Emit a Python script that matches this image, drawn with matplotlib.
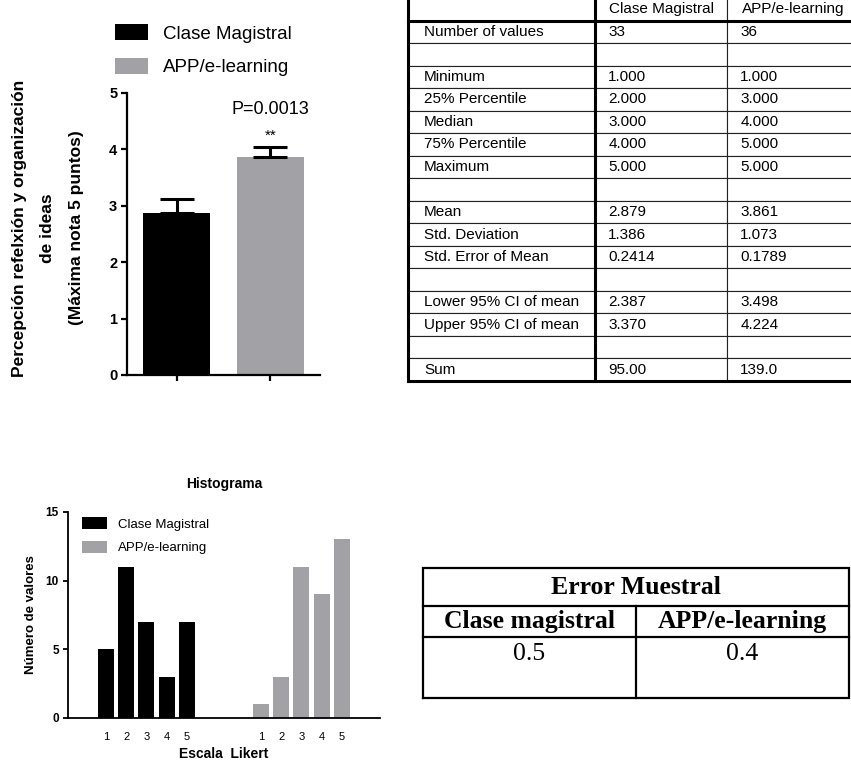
import matplotlib
matplotlib.use("Agg")
import matplotlib.pyplot as plt
from matplotlib.patches import Patch

plt.rcParams['font.family'] = ['Liberation Sans', 'DejaVu Sans']

# --- data ---
groups = ['Clase Magistral', 'APP/e-learning']
means = [2.879, 3.861]
sems = [0.2414, 0.1789]
p_text = 'P=0.0013'

likert = [1, 2, 3, 4, 5]
counts_clase = [5, 11, 7, 3, 7]
counts_app = [1, 3, 11, 9, 13]

stat_names = ['Number of values', '', 'Minimum', '25% Percentile', 'Median',
              '75% Percentile', 'Maximum', '', 'Mean', 'Std. Deviation',
              'Std. Error of Mean', '', 'Lower 95% CI of mean',
              'Upper 95% CI of mean', '', 'Sum']
clase_vals = ['33', '', '1.000', '2.000', '3.000', '4.000', '5.000', '',
              '2.879', '1.386', '0.2414', '', '2.387', '3.370', '', '95.00']
app_vals = ['36', '', '1.000', '3.000', '4.000', '5.000', '5.000', '',
            '3.861', '1.073', '0.1789', '', '3.498', '4.224', '', '139.0']

error_groups = ['Clase magistral', 'APP/e-learning']
sample_error = ['0.5', '0.4']

GRAY = '#a2a2a6'
W, H = 851, 764


def box(x0, y0, x1, y1):
    # pixel box (top-left origin) -> figure fraction rect
    return [x0 / W, 1 - y1 / H, (x1 - x0) / W, (y1 - y0) / H]


fig = plt.figure(figsize=(W / 100, H / 100), dpi=100)

# ---------------- bar chart (top left) ----------------
ax1 = fig.add_axes(box(127, 93, 320, 375))
ax1.bar([0, 1], means, width=0.71, color=['black', GRAY],
        yerr=[[0, 0], sems], capsize=12,
        error_kw=dict(elinewidth=2.2, capthick=2.2, ecolor='black'))
ax1.set_xlim(-0.527, 1.527)
ax1.set_ylim(0, 5)
for s in ['top', 'right']:
    ax1.spines[s].set_visible(False)
for s in ['left', 'bottom']:
    ax1.spines[s].set_linewidth(1.6)
ax1.set_xticks([0, 1])
ax1.set_xticklabels(['', ''])
ax1.tick_params(axis='x', length=4, width=1.6)
ax1.tick_params(axis='y', length=4, width=1.6, pad=3, labelsize=10.5)
for t in ax1.get_yticklabels():
    t.set_fontweight('bold')
ax1.text(1, 4.70, p_text, ha='center', va='center', fontsize=13)
ax1.text(1, 4.24, '**', ha='center', va='center', fontsize=11)

fig.legend([Patch(facecolor='black'), Patch(facecolor=GRAY)], groups,
           loc='upper left', bbox_to_anchor=(115 / W, 1 - 24 / H),
           frameon=False, fontsize=13.5, handlelength=1.76, handleheight=0.96,
           labelspacing=0.8, handletextpad=0.8, borderpad=0, borderaxespad=0)

fig.text(48 / W, 1 - 228 / H,
         'Percepción refelxión y organización\nde ideas\n(Máxima nota 5 puntos)',
         rotation=90, ha='center', va='center', multialignment='center',
         fontsize=12.5, fontweight='bold', linespacing=2.1)

# ---------------- statistics table (top right) ----------------
ax3 = fig.add_axes(box(408, -2, 859, 381))
ax3.axis('off')
col_w = [187 / 451, 132 / 451, 132 / 451]
rows = [[n, a, b] for n, a, b in zip(stat_names, clase_vals, app_vals)]
tab = ax3.table(cellText=rows, colLabels=[''] + groups, colWidths=col_w,
                cellLoc='left', bbox=[0, 0, 1, 1])
tab.auto_set_font_size(False)
tab.set_fontsize(11)
for (r, c), cell in tab.get_celld().items():
    cell.set_linewidth(0.8)
    cell.set_edgecolor('#222222')
    cell.PAD = 0.085 if c == 0 else 0.1
n_rows = len(stat_names) + 1
for xs, ys in [([0, 0], [0, 1]), ([col_w[0], col_w[0]], [0, 1]),
               ([0, 1], [0, 0]), ([0, 1], [1 - 1 / n_rows, 1 - 1 / n_rows])]:
    ax3.plot(xs, ys, color='black', lw=2.2, transform=ax3.transAxes,
             clip_on=False, solid_capstyle='projecting')

# ---------------- histogram (bottom left) ----------------
ax2 = fig.add_axes(box(68, 512, 380, 718))
offset = 7.67
pos_clase = likert
pos_app = [x + offset for x in likert]
ax2.bar(pos_clase, counts_clase, width=0.8, color='black', label=groups[0])
ax2.bar(pos_app, counts_app, width=0.8, color=GRAY, label=groups[1])
ax2.set_xlim(-0.88, 14.56)
ax2.set_ylim(0, 15)
ax2.set_yticks([0, 5, 10, 15])
ax2.set_xticks(pos_clase + pos_app)
ax2.set_xticklabels([str(v) for v in likert] * 2)
for s in ['top', 'right']:
    ax2.spines[s].set_visible(False)
for s in ['left', 'bottom']:
    ax2.spines[s].set_linewidth(1.3)
ax2.tick_params(axis='x', length=0, pad=10, labelsize=8)
ax2.tick_params(axis='y', length=3.5, width=1.3, pad=3, labelsize=8.5)
for t in ax2.get_yticklabels():
    t.set_fontweight('bold')
ax2.set_title('Histograma', fontsize=10, fontweight='bold', pad=17)
ax2.set_xlabel('Escala  Likert', fontsize=10, fontweight='bold', labelpad=4)
ax2.set_ylabel('Número de valores', fontsize=9.5, fontweight='bold', labelpad=6)
ax2.legend(loc='upper left', bbox_to_anchor=(82 / W, 1 - 517 / H),
           bbox_transform=fig.transFigure, frameon=False, fontsize=9.5,
           handlelength=1.9, handleheight=1.05, labelspacing=0.75,
           handletextpad=0.85, borderpad=0, borderaxespad=0)

# ---------------- sample error table (bottom right) ----------------
ax4 = fig.add_axes(box(423, 568, 849, 698))
ax4.set_xlim(0, 1)
ax4.set_ylim(0, 1)
ax4.axis('off')
y1 = (698 - 606) / 130
y2 = (698 - 637) / 130
lw = 1.6
ax4.plot([0, 1, 1, 0, 0], [0, 0, 1, 1, 0], color='black', lw=lw,
         clip_on=False, solid_joinstyle='miter')
ax4.plot([0, 1], [y1, y1], color='black', lw=lw, clip_on=False)
ax4.plot([0, 1], [y2, y2], color='black', lw=lw, clip_on=False)
ax4.plot([0.5, 0.5], [0, y1], color='black', lw=lw, clip_on=False)
serif = ['Liberation Serif', 'DejaVu Serif']
ax4.text(0.5, (1 + y1) / 2, 'Error Muestral', ha='center', va='center',
         fontsize=18.5, fontweight='bold', family=serif)
for i, (g, v) in enumerate(zip(error_groups, sample_error)):
    xc = 0.25 + 0.5 * i
    ax4.text(xc, (y1 + y2) / 2, g, ha='center', va='center',
             fontsize=18.5, fontweight='bold', family=serif)
    ax4.text(xc, (698 - 654) / 130, v, ha='center', va='center',
             fontsize=18.5, family=serif)

fig.savefig('out.png', dpi=100)
